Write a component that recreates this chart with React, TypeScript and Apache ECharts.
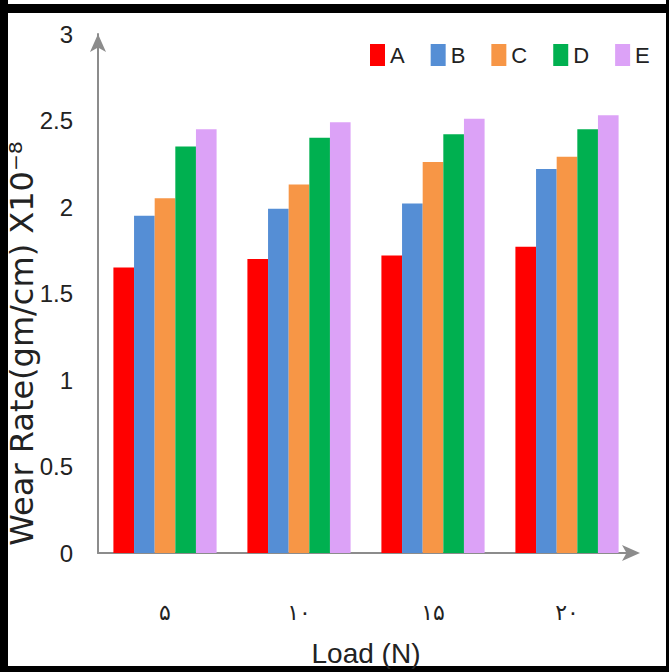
import React, { useEffect, useRef } from "react";
import * as echarts from "echarts";

const categories = ["۵", "١٠", "١۵", "٢٠"];
const seriesNames = ["A", "B", "C", "D", "E"];
const valuesA = [1.65, 1.7, 1.72, 1.77];
const valuesB = [1.95, 1.99, 2.02, 2.22];
const valuesC = [2.05, 2.13, 2.26, 2.29];
const valuesD = [2.35, 2.4, 2.42, 2.45];
const valuesE = [2.45, 2.49, 2.51, 2.53];
const colors = ["#FF0000", "#558ED5", "#F79646", "#00B050", "#DCA2F7"];
const yTitle = "Wear Rate(gm/cm) X10⁻⁸";
const xTitle = "Load (N)";

const narrow = "'Liberation Sans Narrow', 'Liberation Sans', sans-serif";

export default function App() {
  const ref = useRef<HTMLDivElement>(null);
  useEffect(() => {
    document.body.style.margin = "0";
    const chart = echarts.init(ref.current!, null, { renderer: "svg" });
    const all = [valuesA, valuesB, valuesC, valuesD, valuesE];
    chart.setOption({
      animation: false,
      backgroundColor: "#fff",
      grid: { left: 98, right: 35, top: 34, bottom: 119, containLabel: false, outerBoundsMode: "none" },
      legend: {
        left: 365,
        top: 39,
        icon: "rect",
        itemWidth: 15,
        itemHeight: 22,
        itemGap: 26,
        textStyle: { fontSize: 22, color: "#222", fontFamily: narrow },
        data: seriesNames,
      },
      xAxis: {
        type: "category",
        data: categories,
        axisLine: {
          lineStyle: { color: "#8c8c8c", width: 2 },
          symbol: ["none", "arrow"],
          symbolSize: [12, 18],
          symbolOffset: [0, 6],
        },
        axisTick: { show: false },
        axisLabel: { margin: 48, fontSize: 22, color: "#222", fontFamily: "'DejaVu Sans', sans-serif" },
        name: xTitle,
        nameLocation: "middle",
        nameGap: 86,
        nameMoveOverlap: false,
        nameTextStyle: { fontSize: 28, color: "#222", fontFamily: narrow },
      },
      yAxis: {
        type: "value",
        min: 0,
        max: 3,
        interval: 0.5,
        splitLine: { show: false },
        axisLine: {
          show: true,
          lineStyle: { color: "#8c8c8c", width: 2 },
          symbol: ["none", "arrow"],
          symbolSize: [12, 18],
        },
        axisTick: { show: false },
        axisLabel: { margin: 25, fontSize: 24, color: "#222", fontFamily: narrow },
        name: yTitle,
        nameLocation: "middle",
        nameRotate: 90,
        nameGap: 60,
        nameMoveOverlap: false,
        nameTextStyle: {
          fontSize: 32,
          color: "#222",
          fontFamily: "'DejaVu Sans', sans-serif",
          padding: [0, 100, 0, 0],
        },
      },
      series: seriesNames.map((n, i) => ({
        name: n,
        type: "bar",
        data: all[i],
        barGap: "0%",
        barCategoryGap: "23%",
        itemStyle: { color: colors[i] },
      })),
      graphic: [
        { type: "rect", shape: { x: 0, y: 0, width: 8, height: 672 }, style: { fill: "#000" } },
        { type: "rect", shape: { x: 0, y: 4, width: 669, height: 9 }, style: { fill: "#000" } },
        { type: "rect", shape: { x: 666, y: 0, width: 3, height: 672 }, style: { fill: "#000" } },
        { type: "rect", shape: { x: 0, y: 666, width: 669, height: 6 }, style: { fill: "#000" } },
      ],
    });
    return () => chart.dispose();
  }, []);
  return <div ref={ref} style={{ width: 669, height: 672 }} />;
}
